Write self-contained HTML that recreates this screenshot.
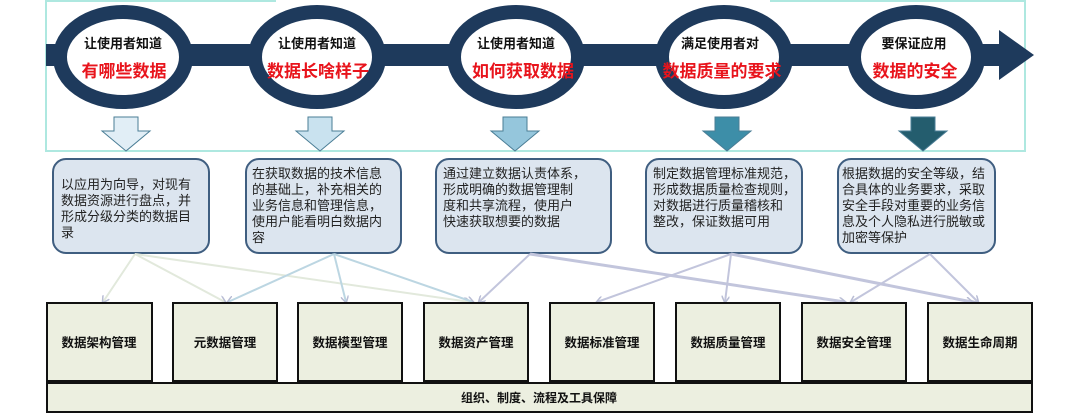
<!DOCTYPE html>
<html><head><meta charset="utf-8"><style>
body{margin:0;background:#fff;}
svg{display:block;font-family:"Liberation Sans","Noto Sans CJK SC",sans-serif;}
</style></head><body>
<svg width="1066" height="417" viewBox="0 0 1066 417" xmlns="http://www.w3.org/2000/svg">
<defs>
<marker id="ah" markerWidth="8" markerHeight="8" refX="6" refY="4" orient="auto" markerUnits="userSpaceOnUse"><path d="M0,0 L7,4 L0,8" fill="none" stroke="#b8bcd4" stroke-width="1.5"/></marker>
</defs>
<path d="M276,1 L46,1 L46,151 L1025,151 L1025,1 L770,1" fill="none" stroke="#aee8e0" stroke-width="2"/>
<rect x="46" y="44" width="955" height="22" fill="#1e3a5c"/>
<polygon points="999,30 1034,55 999,80" fill="#1e3a5c"/>
<g fill="#fff" stroke="#1e3a5c" stroke-width="14">
<ellipse cx="123" cy="57" rx="63" ry="45"/>
<ellipse cx="317" cy="57" rx="62" ry="45"/>
<ellipse cx="516" cy="57" rx="62" ry="45"/>
<ellipse cx="724" cy="57" rx="62" ry="45"/>
<ellipse cx="916" cy="57" rx="62" ry="45"/>
</g>
<g font-size="13" font-weight="bold" fill="#111" text-anchor="middle">
<text x="123" y="48">让使用者知道</text>
<text x="317" y="48">让使用者知道</text>
<text x="516" y="48">让使用者知道</text>
<text x="720" y="48">满足使用者对</text>
<text x="914" y="48">要保证应用</text>
</g>
<g font-size="17" font-weight="bold" fill="#e8141c" text-anchor="middle">
<text x="124" y="77">有哪些数据</text>
<text x="318" y="77">数据长啥样子</text>
<text x="523" y="77">如何获取数据</text>
<text x="722" y="77">数据质量的要求</text>
<text x="915" y="77">数据的安全</text>
</g>
<g stroke="#4a7d95" stroke-width="1">
<polygon points="114,117 138,117 138,131 150,131 126,151 102,131 114,131" fill="#e1eef6"/>
<polygon points="308,117 332,117 332,131 344,131 320,151 296,131 308,131" fill="#c9e2ef"/>
<polygon points="503,117 527,117 527,131 539,131 515,151 491,131 503,131" fill="#95c6dc"/>
<polygon points="715,117 739,117 739,131 751,131 727,151 703,131 715,131" fill="#3d8ea8"/>
<polygon points="911,117 935,117 935,131 947,131 923,151 899,131 911,131" fill="#245d6e"/>
</g>
<g fill="#dce5ef" stroke="#3f5e80" stroke-width="2">
<rect x="53" y="159" width="156" height="94" rx="13"/>
<rect x="246" y="159" width="155" height="94" rx="13"/>
<rect x="436" y="159" width="175" height="94" rx="13"/>
<rect x="646" y="159" width="156" height="94" rx="13"/>
<rect x="838" y="159" width="157" height="94" rx="13"/>
</g>
<g font-size="13" fill="#222">
<text x="61" y="189">以应用为向导，对现有</text>
<text x="61" y="205">数据资源进行盘点，并</text>
<text x="61" y="221">形成分级分类的数据目</text>
<text x="61" y="237">录</text>
<text x="252" y="178">在获取数据的技术信息</text>
<text x="252" y="194">的基础上，补充相关的</text>
<text x="252" y="210">业务信息和管理信息，</text>
<text x="252" y="226">使用户能看明白数据内</text>
<text x="252" y="242">容</text>
<text x="443" y="178">通过建立数据认责体系，</text>
<text x="443" y="194">形成明确的数据管理制</text>
<text x="443" y="210">度和共享流程，使用户</text>
<text x="443" y="226">快速获取想要的数据</text>
<text x="653" y="178">制定数据管理标准规范，</text>
<text x="653" y="194">形成数据质量检查规则，</text>
<text x="653" y="210">对数据进行质量稽核和</text>
<text x="653" y="226">整改，保证数据可用</text>
<text x="842" y="178">根据数据的安全等级，结</text>
<text x="842" y="194">合具体的业务要求，采取</text>
<text x="842" y="210">安全手段对重要的业务信</text>
<text x="842" y="226">息及个人隐私进行脱敏或</text>
<text x="842" y="242">加密等保护</text>
</g>
<g fill="none" stroke-width="2" marker-end="url(#ah)">
<g stroke="#e2e9dc">
<line x1="135" y1="254" x2="103" y2="302"/>
<line x1="135" y1="254" x2="225" y2="302"/>
<line x1="135" y1="254" x2="470" y2="302"/>
</g>
<g stroke="#bcd6e2">
<line x1="334" y1="254" x2="228" y2="302"/>
<line x1="334" y1="254" x2="346" y2="302"/>
<line x1="334" y1="254" x2="473" y2="302"/>
</g>
<g stroke="#c2c5dc">
<line x1="530" y1="254" x2="479" y2="302"/>
<line x1="530" y1="254" x2="845" y2="302" stroke-width="3"/>
<line x1="731" y1="254" x2="597" y2="302"/>
<line x1="731" y1="254" x2="725" y2="302"/>
<line x1="731" y1="254" x2="972" y2="302" stroke-width="3"/>
<line x1="930" y1="254" x2="851" y2="302"/>
<line x1="930" y1="254" x2="978" y2="302"/>
</g>
</g>
<g fill="#ecefe0" stroke="#111" stroke-width="2">
<rect x="47" y="303" width="105" height="78"/>
<rect x="173" y="303" width="104" height="78"/>
<rect x="298" y="303" width="104" height="78"/>
<rect x="424" y="303" width="104" height="78"/>
<rect x="550" y="303" width="104" height="78"/>
<rect x="676" y="303" width="104" height="78"/>
<rect x="802" y="303" width="104" height="78"/>
<rect x="928" y="303" width="104" height="78"/>
<rect x="47" y="383" width="985" height="29"/>
</g>
<g font-size="12.5" font-weight="bold" fill="#111" text-anchor="middle">
<text x="99" y="347">数据架构管理</text>
<text x="225" y="347">元数据管理</text>
<text x="350" y="347">数据模型管理</text>
<text x="476" y="347">数据资产管理</text>
<text x="602" y="347">数据标准管理</text>
<text x="728" y="347">数据质量管理</text>
<text x="854" y="347">数据安全管理</text>
<text x="980" y="347">数据生命周期</text>
<text x="539" y="402" font-size="12">组织、制度、流程及工具保障</text>
</g>
</svg>
</body></html>
